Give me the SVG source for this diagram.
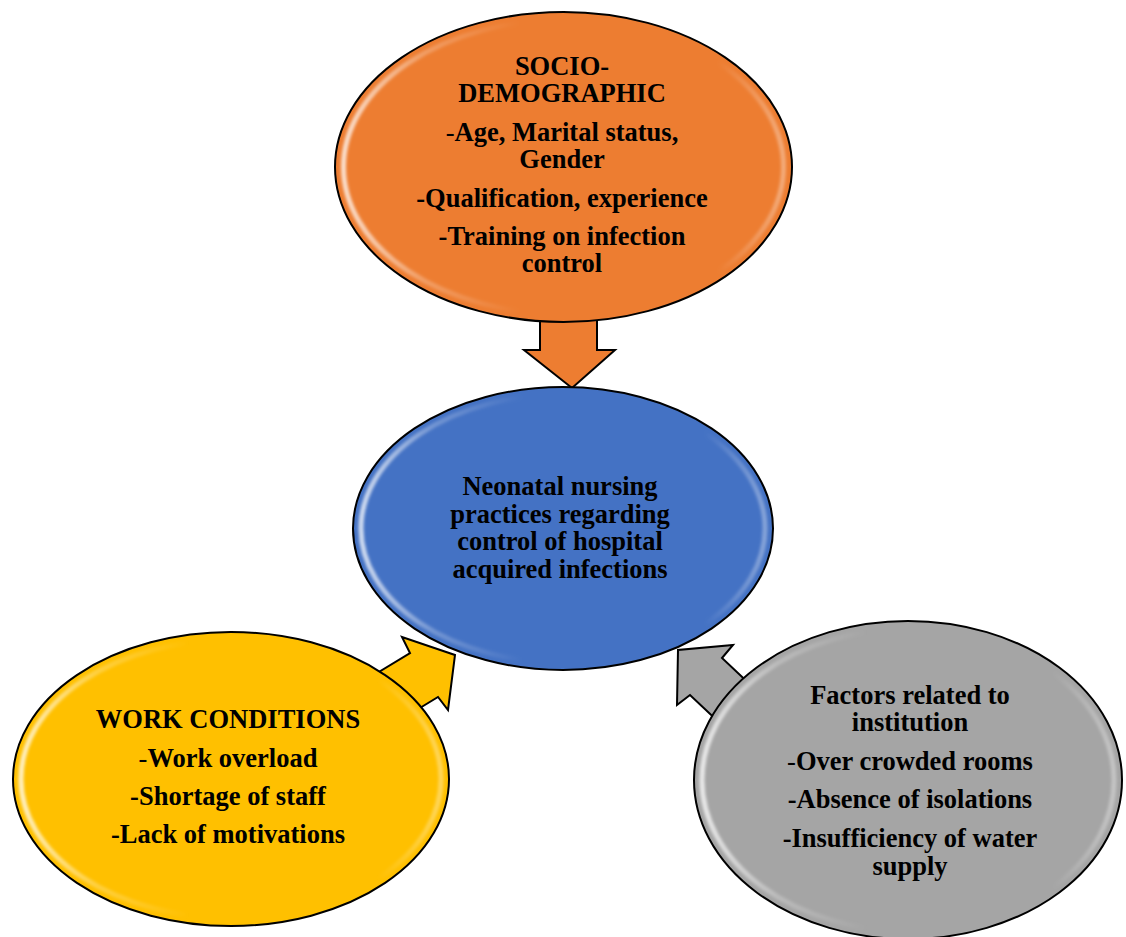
<svg xmlns="http://www.w3.org/2000/svg" width="1126" height="937" viewBox="0 0 1126 937">
<defs>
  <linearGradient id="hl" x1="0" y1="0" x2="1" y2="0">
    <stop offset="0" stop-color="#fff" stop-opacity="0.75"/>
    <stop offset="0.18" stop-color="#fff" stop-opacity="0.25"/>
    <stop offset="0.4" stop-color="#fff" stop-opacity="0"/>
    <stop offset="0.85" stop-color="#fff" stop-opacity="0"/>
    <stop offset="1" stop-color="#fff" stop-opacity="0.35"/>
  </linearGradient>
  <filter id="soft" x="-10%" y="-10%" width="120%" height="120%">
    <feGaussianBlur stdDeviation="1.5"/>
  </filter>
  <style>
    .edge{stroke:#000;stroke-width:2}
    .hl{fill:none;stroke:url(#hl);stroke-width:5;filter:url(#soft)}
    .t{font-family:"Liberation Serif","Times New Roman",serif;font-weight:bold;font-size:26.5px;fill:#000;text-anchor:middle}
    .n{font-weight:normal}
    .orange{fill:#ED7D31}
    .blue{fill:#4472C4}
    .yellow{fill:#FFC000}
    .gray{fill:#A5A5A5}
  </style>
</defs>
<rect width="1126" height="937" fill="#fff"/>

<g id="connectors">
  <path class="orange edge" d="M540,300 L597,300 L597,350 L615,350 L572,388 L524,350 L540,350 Z"/>
  <path class="yellow edge" d="M359,684 L410,653 L402,637 L455,655 L448,710 L438,697 L387,728 Z"/>
  <path class="gray edge" d="M773,706 L722,658 L733,645 L678,650 L677,705 L690,695 L741,743 Z"/>
</g>

<g id="node-socio">
  <ellipse class="orange edge" cx="563.5" cy="167" rx="228.5" ry="155"/>
  <ellipse class="hl" cx="563.5" cy="167" rx="220" ry="147"/>
  <text class="t" x="562" y="75">SOCIO-</text>
  <text class="t" x="562" y="102">DEMOGRAPHIC</text>
  <text class="t" x="562" y="141"><tspan class="n">-</tspan>Age, Marital status,</text>
  <text class="t" x="562" y="168">Gender</text>
  <text class="t" x="562" y="207">-Qualification, experience</text>
  <text class="t" x="562" y="245">-Training on infection</text>
  <text class="t" x="562" y="272">control</text>
</g>

<g id="node-center">
  <ellipse class="blue edge" cx="563" cy="528.5" rx="210" ry="141.5"/>
  <ellipse class="hl" cx="563" cy="528.5" rx="202" ry="134"/>
  <text class="t" x="560" y="495">Neonatal nursing</text>
  <text class="t" x="560" y="522.5">practices regarding</text>
  <text class="t" x="560" y="550">control of hospital</text>
  <text class="t" x="560" y="578">acquired infections</text>
</g>

<g id="node-work">
  <ellipse class="yellow edge" cx="231" cy="779" rx="218" ry="147"/>
  <ellipse class="hl" cx="231" cy="779" rx="210" ry="139"/>
  <text class="t" x="228" y="728">WORK CONDITIONS</text>
  <text class="t" x="228" y="767"><tspan class="n">-</tspan>Work overload</text>
  <text class="t" x="228" y="805">-Shortage of staff</text>
  <text class="t" x="228" y="843">-Lack of motivations</text>
</g>

<g id="node-institution">
  <ellipse class="gray edge" cx="908" cy="780" rx="214" ry="159"/>
  <ellipse class="hl" cx="908" cy="780" rx="206" ry="151"/>
  <text class="t" x="910" y="704">Factors related to</text>
  <text class="t" x="910" y="731">institution</text>
  <text class="t" x="910" y="770"><tspan class="n">-</tspan>Over crowded rooms</text>
  <text class="t" x="910" y="808">-Absence of isolations</text>
  <text class="t" x="910" y="847">-Insufficiency of water</text>
  <text class="t" x="910" y="875">supply</text>
</g>
</svg>
